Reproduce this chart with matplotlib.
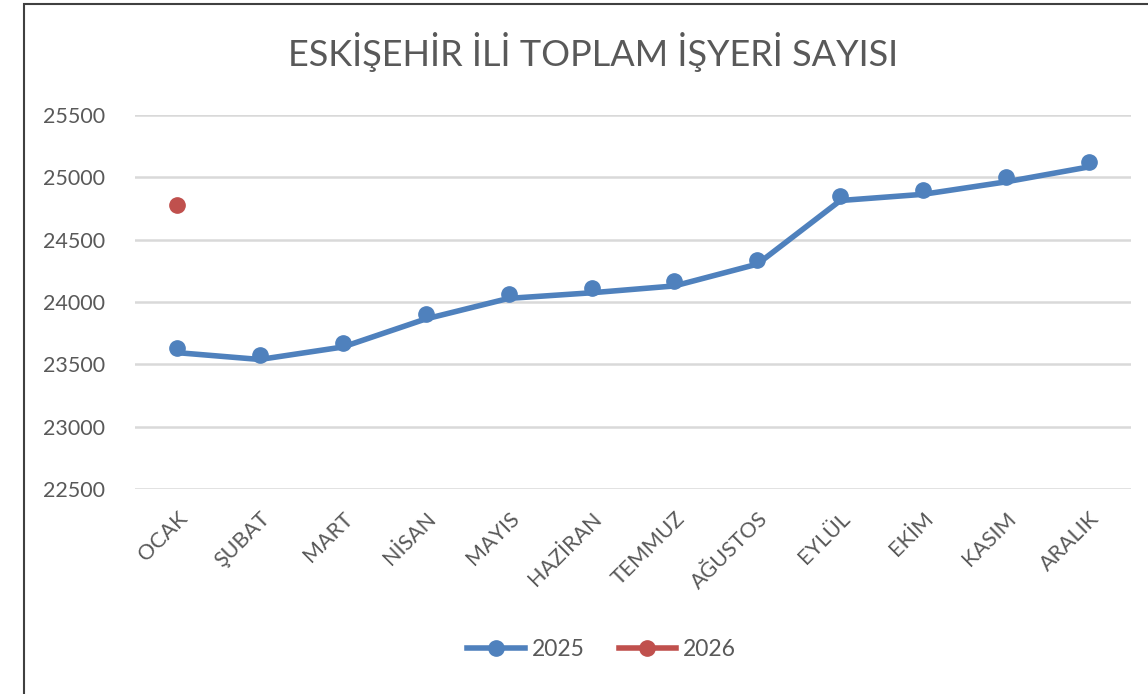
import matplotlib.pyplot as plt
from matplotlib.patches import Rectangle
from matplotlib.transforms import ScaledTranslation

plt.rcParams['font.family'] = ['Lato', 'DejaVu Sans']

months = ["OCAK", "ŞUBAT", "MART", "NİSAN", "MAYIS", "HAZİRAN",
          "TEMMUZ", "AĞUSTOS", "EYLÜL", "EKİM", "KASIM", "ARALIK"]
y2025 = [23630, 23575, 23675, 23900, 24065, 24110, 24165, 24340, 24850, 24900, 25000, 25120]
y2026 = [24775]
yticks = [22500, 23000, 23500, 24000, 24500, 25000, 25500]

blue = "#4F81BD"
red = "#C0504D"
grey = "#595959"

fig = plt.figure(figsize=(11.48, 6.94), dpi=100)
ax = fig.add_axes([0.118, 0.2954, 0.8668, 0.5389])

x = list(range(len(months)))
# line sits a few pixels under the markers, as in the source
shift = ScaledTranslation(0, -4.5 / 100, fig.dpi_scale_trans)
ax.plot(x, y2025, color=blue, lw=4.0, solid_capstyle='round', solid_joinstyle='round',
        transform=ax.transData + shift, zorder=3)
ax.plot(x, y2025, 'o', color=blue, ms=11, zorder=4)
ax.plot(x[:len(y2026)], y2026, 'o', color=red, ms=11, zorder=4)

# legend proxies
ax.plot([], [], '-o', color=blue, lw=4.0, ms=11, label="2025")
ax.plot([], [], '-o', color=red, lw=4.0, ms=11, label="2026")

ax.set_xlim(-0.5, len(months) - 0.5)
ax.set_ylim(22500, 25500)
ax.set_yticks(yticks)
ax.set_yticklabels([str(v) for v in yticks])
ax.set_xticks(x)
ax.set_xticklabels(months, rotation=45, ha='right', rotation_mode='anchor')
ax.tick_params(axis='both', length=0, labelsize=15.5, labelcolor=grey)
ax.tick_params(axis='y', pad=22)
ax.tick_params(axis='x', pad=14)
for s in ax.spines.values():
    s.set_visible(False)
ax.grid(axis='y', color="#D9D9D9", lw=1.8)
ax.set_axisbelow(True)

fig.text(0.517, 0.925, "ESKİŞEHİR İLİ TOPLAM İŞYERİ SAYISI", ha='center', va='center',
         fontsize=26, color=grey)

handles, labels = ax.get_legend_handles_labels()
leg = fig.legend(handles[-2:], labels[-2:], loc='center', bbox_to_anchor=(0.524, 0.064),
                 ncol=2, frameon=False, fontsize=16.5, handlelength=2.5, columnspacing=1.5,
                 handletextpad=0.3, labelcolor=grey)

fig.patches.append(Rectangle((24 / 1148, -0.05), 1.2, 1.05 - 4 / 694, transform=fig.transFigure,
                             fill=False, edgecolor="#404040", lw=1.5))

plt.savefig("out.png", dpi=100)
